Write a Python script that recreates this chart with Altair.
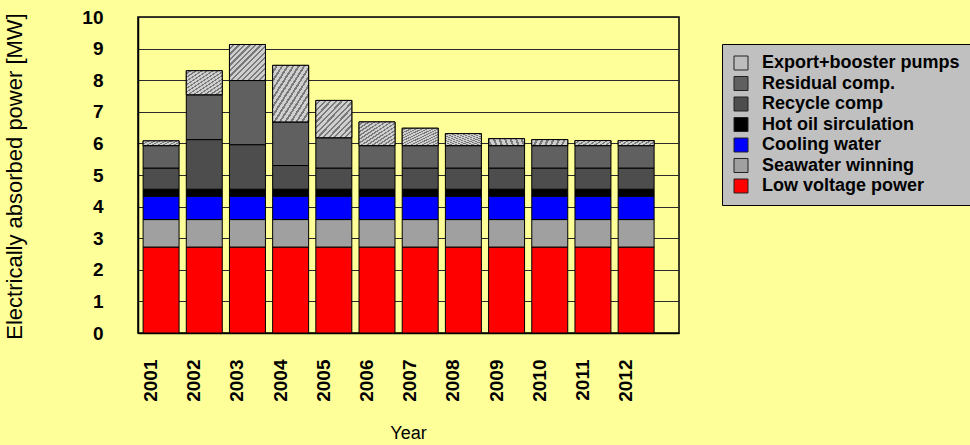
import altair as alt
import pandas as pd

years = [str(y) for y in range(2001, 2013)]

# series listed bottom -> top of the stack
series_names = [
    "Low voltage power",
    "Seawater winning",
    "Cooling water",
    "Hot oil sirculation",
    "Recycle comp",
    "Residual comp.",
    "Export+booster pumps",
]
low_voltage = [2.72] * 12
seawater = [0.87] * 12
cooling = [0.74] * 12
hot_oil = [0.22] * 12
recycle = [0.67, 1.57, 1.41, 0.75, 0.67, 0.67, 0.67, 0.67, 0.67, 0.67, 0.67, 0.67]
residual = [0.71, 1.42, 2.03, 1.38, 0.96, 0.71, 0.71, 0.71, 0.71, 0.71, 0.71, 0.71]
export = [0.15, 0.76, 1.14, 1.79, 1.18, 0.75, 0.55, 0.38, 0.22, 0.19, 0.16, 0.16]
series_values = [low_voltage, seawater, cooling, hot_oil, recycle, residual, export]
series_colors = ["#FF0000", "#A0A0A0", "#0000FF", "#000000", "#4D4D4D", "#606060", "#BDBDBD"]
y_ticks = list(range(0, 11))

rows = []
for i, yr in enumerate(years):
    base = 0.0
    for k, name in enumerate(series_names):
        v = series_values[k][i]
        rows.append({"Year": yr, "Series": name, "order": k,
                     "start": base, "end": base + v})
        base += v
df = pd.DataFrame(rows)

legend_domain = list(reversed(series_names))
legend_range = list(reversed(series_colors))

xscale = alt.Scale(paddingInner=0.167, paddingOuter=0.347, align=0.17)
yscale = alt.Scale(domain=[0, 10], nice=False)

x_axis = alt.Axis(title="Year", labelAngle=270, labelAlign="right",
                  labelBaseline="middle", labelPadding=26, labelOffset=-10,
                  ticks=False, domainColor="#000000",
                  titleX=270, titleY=100, titleAlign="center",
                  titleBaseline="middle")
y_axis = alt.Axis(title="Electrically absorbed power [MW]", values=y_ticks,
                  ticks=False, labelPadding=35, grid=True, labelOverlap=False,
                  gridColor="#2a2a2a", gridWidth=1, domainColor="#000000",
                  titleX=-124, titleY=159, titleAngle=270,
                  titleAlign="center", titleBaseline="middle",
                  titleFontSize=22)

bars = alt.Chart(df).mark_bar(stroke="#000000", strokeWidth=1).encode(
    x=alt.X("Year:N", scale=xscale, sort=years, axis=x_axis),
    y=alt.Y("start:Q", scale=yscale, axis=y_axis),
    y2="end:Q",
    color=alt.Color("Series:N",
                    scale=alt.Scale(domain=legend_domain, range=legend_range),
                    legend=alt.Legend(title=None, orient="none", legendX=584, legendY=27,
                                      symbolType="square", symbolSize=196,
                                      symbolStrokeColor="#222222", symbolStrokeWidth=1,
                                      fillColor="#C0C0C0", strokeColor="#000000",
                                      padding=10, rowPadding=2.5, labelOffset=12,
                                      labelFontSize=18, labelFontWeight="bold",
                                      labelFont="Liberation Sans", labelColor="#000000",
                                      labelLimit=400)),
)

n = 13
stops = []
for i in range(n):
    stops.append(alt.GradientStop(offset=i / n, color="#CFCFCF"))
    stops.append(alt.GradientStop(offset=(i + 0.6) / n, color="#CFCFCF"))
    stops.append(alt.GradientStop(offset=(i + 0.6) / n, color="#7A7A7A"))
    stops.append(alt.GradientStop(offset=(i + 1) / n, color="#7A7A7A"))
hatch = alt.LinearGradient(gradient="linear", x1=0, y1=0, x2=1, y2=1, stops=stops)

hatched = alt.Chart(df).transform_filter(
    alt.datum.Series == "Export+booster pumps"
).mark_bar(fill=hatch, stroke="#000000", strokeWidth=1).encode(
    x=alt.X("Year:N", scale=xscale, sort=years, axis=x_axis),
    y=alt.Y("start:Q", scale=yscale, axis=y_axis),
    y2="end:Q",
)

chart = alt.layer(bars, hatched).properties(
    width=541, height=316,
    background="#FFFF99",
    padding={"left": 138, "top": 17, "right": 291, "bottom": 112},
    autosize=alt.AutoSizeParams(type="none"),
).configure_view(
    fill="#FFFF99", stroke="#000000", strokeWidth=1.5
).configure_axis(
    labelFont="Liberation Sans", labelFontSize=19, labelFontWeight="bold",
    labelColor="#000000", titleFont="Liberation Sans", titleFontSize=18,
    titleFontWeight="normal", titleColor="#000000", domainWidth=1.5,
)

chart.save("out.html", embed_options={"renderer": "svg", "actions": False})
